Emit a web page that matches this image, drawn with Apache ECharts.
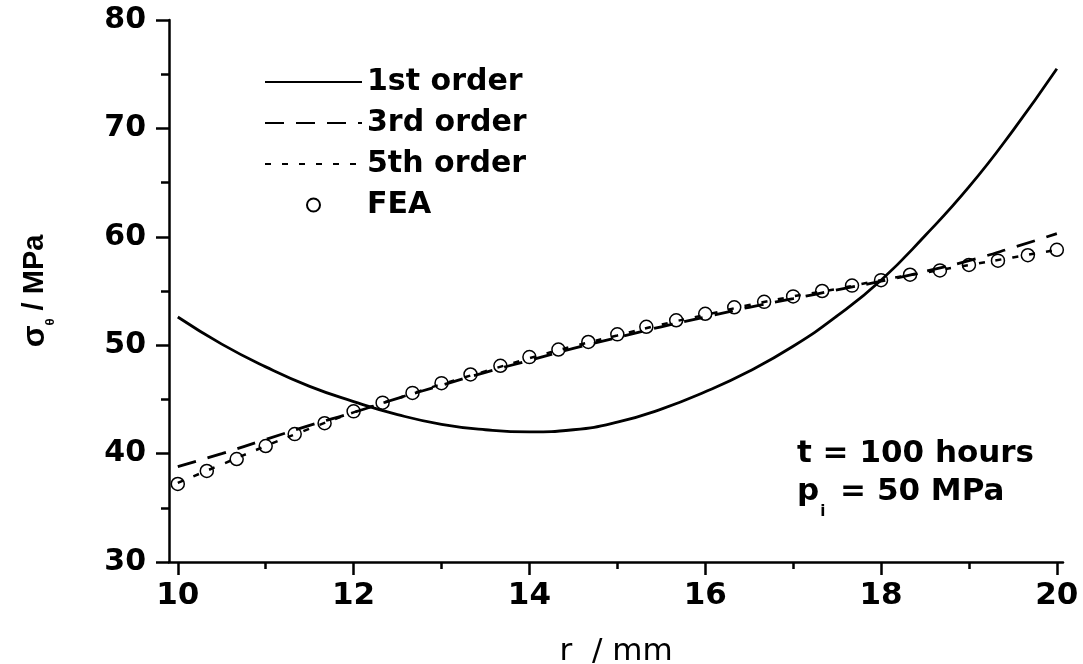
<!DOCTYPE html>
<html>
<head>
<meta charset="utf-8">
<script src="https://cdn.jsdelivr.net/npm/echarts@6/dist/echarts.min.js"></script>
<style>
  html, body { margin: 0; padding: 0; background: #ffffff; }
  #chart { width: 1083px; height: 664px; }
</style>
</head>
<body>
<div id="chart"></div>
<script>
// Radial positions (mm) at which the analytical solutions are tabulated
const rFit = [10, 10.5, 11, 11.5, 12, 12.5, 13, 13.5, 14, 14.5, 15, 15.5, 16, 16.5, 17, 17.5, 18, 18.5, 19, 19.5, 20];

// Hoop stress (MPa) for the 1st, 3rd and 5th order approximations
const sigma1st = [52.6, 50.1, 48.0, 46.2, 44.8, 43.6, 42.7, 42.2, 42.0, 42.2, 42.9, 44.1, 45.7, 47.6, 49.9, 52.7, 56.0, 60.1, 64.6, 69.8, 75.5];
const sigma3rd = [38.8, 40.0, 41.3, 42.6, 43.8, 45.1, 46.3, 47.5, 48.6, 49.7, 50.7, 51.7, 52.6, 53.5, 54.3, 55.1, 55.9, 56.8, 57.8, 59.0, 60.3];
const sigma5th = [37.3, 39.0, 40.7, 42.3, 43.8, 45.1, 46.4, 47.6, 48.8, 49.9, 50.9, 51.9, 52.8, 53.7, 54.5, 55.2, 56.0, 56.7, 57.4, 58.1, 58.8];

// Finite element results
const rFEA = [10, 10.33, 10.67, 11, 11.33, 11.67, 12, 12.33, 12.67, 13, 13.33, 13.67, 14, 14.33, 14.67, 15, 15.33, 15.67, 16, 16.33, 16.67, 17, 17.33, 17.67, 18, 18.33, 18.67, 19, 19.33, 19.67, 20];
const sigmaFEA = [37.2, 38.4, 39.5, 40.7, 41.8, 42.8, 43.9, 44.7, 45.6, 46.5, 47.3, 48.1, 48.9, 49.6, 50.3, 51.0, 51.7, 52.3, 52.9, 53.5, 54.0, 54.5, 55.0, 55.5, 56.0, 56.5, 56.9, 57.4, 57.8, 58.3, 58.8];

// Axis ticks and labels
const xLabelValues = [10, 12, 14, 16, 18, 20];
const xMinorTickValues = [11, 13, 15, 17, 19];
const yMin = 30, yMax = 80, yStep = 10;

const seriesNames = ['1st order', '3rd order', '5th order', 'FEA'];

const FONT = 'DejaVu Sans';
const INK = '#000000';

const pairs = (xs, ys) => xs.map((x, i) => [x, ys[i]]);

// Line entries show only their stroke in the legend (no marker in the middle)
const legendData = seriesNames.map((name, i) =>
  i < 3 ? { name: name, itemStyle: { opacity: 0 } } : { name: name }
);

const chart = echarts.init(document.getElementById('chart'), null, { renderer: 'canvas' });

chart.setOption({
  animation: false,
  backgroundColor: '#ffffff',
  grid: { left: 169, right: 20, top: 20, bottom: 102, outerBoundsMode: 'none' },
  title: {
    left: 797,
    top: 435,
    padding: 0,
    text: '{m|t = 100 hours}\n{m|p}{s|i}{m| = 50 MPa}',
    textStyle: {
      rich: {
        m: { fontFamily: FONT, fontWeight: 'bold', fontSize: 31, lineHeight: 38, color: INK },
        s: { fontFamily: FONT, fontWeight: 'bold', fontSize: 15, lineHeight: 15, color: INK, verticalAlign: 'top', padding: [32, 4, 0, 1] }
      }
    }
  },
  legend: {
    orient: 'vertical',
    left: 264,
    top: 67,
    padding: 0,
    itemWidth: 97,
    itemHeight: 13,
    itemGap: 11,
    data: legendData,
    textStyle: { fontFamily: FONT, fontWeight: 'bold', fontSize: 30, lineHeight: 30, color: INK }
  },
  xAxis: [
    {
      type: 'value',
      min: 9.9,
      max: 20.07,
      name: 'r  / mm',
      nameLocation: 'middle',
      nameGap: 74,
      nameTextStyle: { fontFamily: FONT, fontSize: 31, color: INK },
      axisLine: { show: true, onZero: false, lineStyle: { color: INK, width: 2.5 } },
      axisTick: { show: true, customValues: xLabelValues, length: 13, lineStyle: { color: INK, width: 2.5 } },
      axisLabel: { customValues: xLabelValues, margin: 18, fontFamily: FONT, fontWeight: 'bold', fontSize: 31, color: INK },
      splitLine: { show: false }
    },
    {
      type: 'value',
      min: 9.9,
      max: 20.07,
      position: 'bottom',
      axisLine: { show: false },
      axisTick: { show: true, customValues: xMinorTickValues, length: 7, lineStyle: { color: INK, width: 2.5 } },
      axisLabel: { show: false },
      splitLine: { show: false }
    }
  ],
  yAxis: {
    type: 'value',
    min: yMin,
    max: yMax,
    interval: yStep,
    name: '{g|σ}{s|θ}{n| / MPa}',
    nameLocation: 'middle',
    nameGap: 117,
    nameTextStyle: {
      color: INK,
      rich: {
        g: { fontFamily: 'Liberation Sans', fontWeight: 'bold', fontSize: 32, lineHeight: 34, color: INK },
        n: { fontFamily: 'Liberation Sans', fontWeight: 'bold', fontSize: 29, lineHeight: 34, color: INK },
        s: { fontFamily: 'Liberation Sans', fontWeight: 'bold', fontSize: 13, lineHeight: 13, color: INK, verticalAlign: 'top', padding: [26, 0, 0, 0] }
      }
    },
    axisLine: { show: true, onZero: false, lineStyle: { color: INK, width: 2.5 } },
    axisTick: { show: true, length: 13, lineStyle: { color: INK, width: 2.5 } },
    minorTick: { show: true, splitNumber: 2, length: 8, lineStyle: { color: INK, width: 2.5 } },
    axisLabel: { margin: 23, fontFamily: FONT, fontWeight: 'bold', fontSize: 30, color: INK },
    splitLine: { show: false },
    minorSplitLine: { show: false }
  },
  series: [
    {
      name: seriesNames[0],
      type: 'line',
      smooth: true,
      symbol: 'none',
      data: pairs(rFit, sigma1st),
      lineStyle: { color: INK, width: 2.8, type: 'solid' },
      itemStyle: { color: INK }
    },
    {
      name: seriesNames[1],
      type: 'line',
      smooth: true,
      symbol: 'none',
      data: pairs(rFit, sigma3rd),
      lineStyle: { color: INK, width: 2.8, type: [19, 12] },
      itemStyle: { color: INK }
    },
    {
      name: seriesNames[2],
      type: 'line',
      smooth: true,
      symbol: 'none',
      data: pairs(rFit, sigma5th),
      lineStyle: { color: INK, width: 2.5, type: [6, 11] },
      itemStyle: { color: INK }
    },
    {
      name: seriesNames[3],
      type: 'scatter',
      symbol: 'circle',
      symbolSize: 13,
      data: pairs(rFEA, sigmaFEA),
      itemStyle: { color: '#ffffff', borderColor: INK, borderWidth: 1.5, opacity: 1 }
    }
  ]
});
</script>
</body>
</html>
